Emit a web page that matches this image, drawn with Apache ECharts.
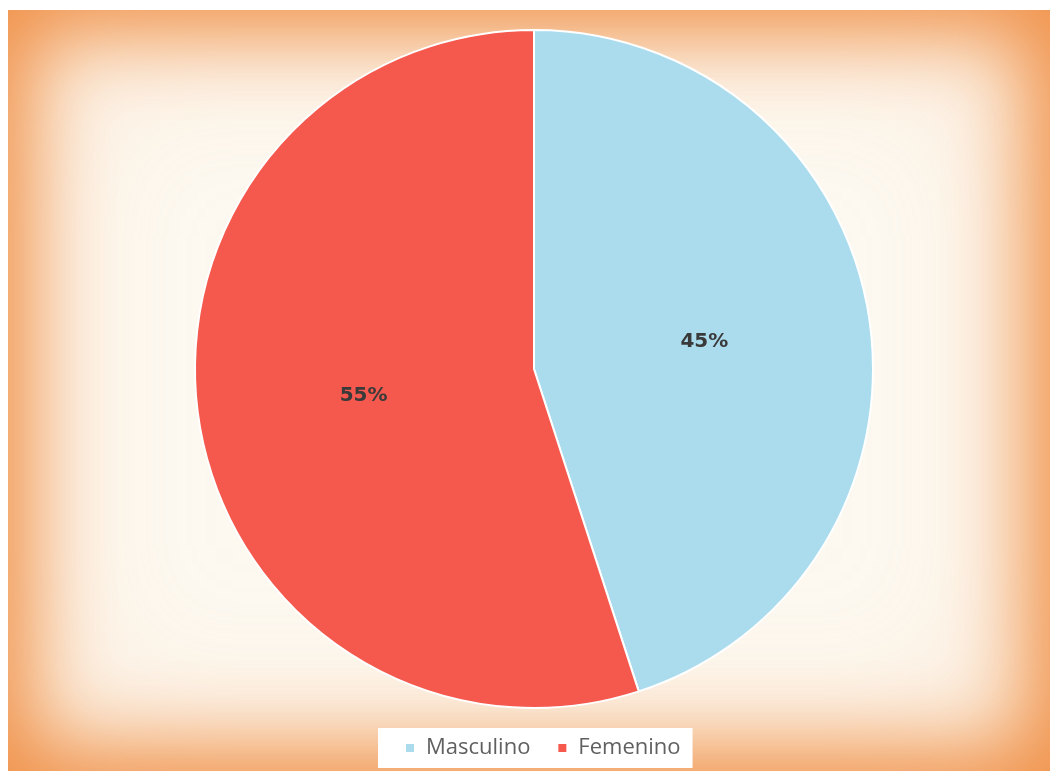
<!DOCTYPE html>
<html>
<head>
<meta charset="utf-8">
<script src="https://cdn.jsdelivr.net/npm/echarts@6/dist/echarts.min.js"></script>
<style>
  html, body { margin: 0; padding: 0; background: #ffffff; }
  #frame {
    position: absolute; left: 8px; top: 10px; width: 1042px; height: 761px;
    background: #fdf9f1;
    box-shadow: inset 0 0 80px 22px #f0924a, inset 0 0 180px 10px rgba(244, 170, 110, 0.35);
  }
  #chart { position: absolute; left: 0; top: 0; width: 1050px; height: 771px; }
</style>
</head>
<body>
<div id="frame"></div>
<div id="chart"></div>
<script>
// Distribución por sexo
const categories = ['Masculino', 'Femenino'];
const shares = [45, 55];
const colors = ['#abdcee', '#f5594d'];

const chart = echarts.init(document.getElementById('chart'), null, { renderer: 'canvas' });

chart.setOption({
  backgroundColor: 'transparent',
  animation: false,
  color: colors,
  legend: {
    data: categories,
    bottom: 3,
    left: 378,
    icon: 'rect',
    itemWidth: 10,
    itemHeight: 10,
    itemGap: 26,
    backgroundColor: '#ffffff',
    padding: [9, 12, 9, 26],
    textStyle: {
      fontFamily: 'Open Sans',
      fontSize: 22,
      color: '#606060',
      padding: [0, 0, 0, 6]
    }
  },
  series: [{
    type: 'pie',
    center: [534, 369],
    radius: 339,
    startAngle: 90,
    clockwise: true,
    avoidLabelOverlap: false,
    itemStyle: { borderColor: '#ffffff', borderWidth: 2 },
    label: {
      show: true,
      position: 'inside',
      formatter: '{c}%',
      fontFamily: 'DejaVu Sans',
      fontWeight: 'bold',
      fontSize: 20,
      color: '#3a3a3a'
    },
    labelLine: { show: false },
    data: categories.map((name, i) => ({ name: name, value: shares[i] }))
  }]
});
</script>
</body>
</html>
